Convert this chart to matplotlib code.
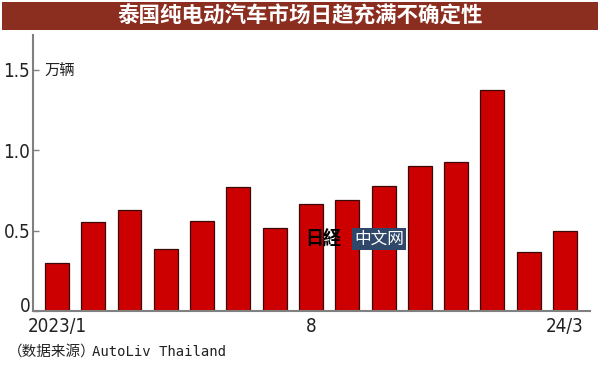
import matplotlib
matplotlib.use("Agg")
import matplotlib.pyplot as plt
from matplotlib.patches import Rectangle
from matplotlib import font_manager
from matplotlib.transforms import ScaledTranslation

months = ["2023/1", "2", "3", "4", "5", "6", "7", "8", "9", "10", "11", "12", "24/1", "2", "3"]
sales = [0.30, 0.55, 0.63, 0.385, 0.56, 0.77, 0.515, 0.665, 0.69, 0.775, 0.90, 0.925, 1.37, 0.365, 0.50]
shown_ticks = {0: "2023/1", 7: "8", 14: "24/3"}
yticks = [0, 0.5, 1.0, 1.5]
ytick_labels = ["0", "0.5", "1.0", "1.5"]

title = "泰国纯电动汽车市场日趋充满不确定性"
unit = "万辆"
source_cn = "（数据来源）"
source_en = "AutoLiv Thailand"

cjk = ["Noto Sans CJK SC", "DejaVu Sans"]
tick_fp = font_manager.FontProperties(family="DejaVu Sans", stretch="condensed", size=13.5)

fig = plt.figure(figsize=(6.0, 3.69), dpi=100)
fig.patch.set_facecolor("white")

# title bar
fig.patches.append(Rectangle((2/600, 1 - 30/369), 596/600, 28/369, transform=fig.transFigure,
                             facecolor="#8b2d1f", edgecolor="none"))
fig.text(0.5, 1 - 16/369, title, ha="center", va="center", color="white",
         fontsize=15.5, fontweight="bold", family=cjk)

ax = fig.add_axes([33/600, 58/369, (590-33)/600, (311-35)/369])
x = list(range(len(sales)))
ax.bar(x, sales, width=0.66, color="#cc0000", edgecolor="#3a0a0a", linewidth=0.9, zorder=2)

ax.set_xlim(-0.66, 14.69)
ax.set_ylim(0, (311-35)/161)
ax.set_yticks(yticks)
ax.set_yticklabels(ytick_labels, fontproperties=tick_fp, color="#222222")
ax.set_xticks(list(shown_ticks.keys()))
ax.set_xticklabels(list(shown_ticks.values()), fontproperties=tick_fp, color="#222222")
ax.tick_params(axis="y", direction="in", length=4, width=1, color="#808080", pad=2)
ax.tick_params(axis="x", length=0, pad=4)
for s in ["top", "right"]:
    ax.spines[s].set_visible(False)
for s in ["left", "bottom"]:
    ax.spines[s].set_color("#808080")
    ax.spines[s].set_linewidth(1.5)

# lift the "0" label a bit so it sits above the x labels, as in the reference
zero_lbl = ax.get_yticklabels()[0]
zero_lbl.set_transform(zero_lbl.get_transform() + ScaledTranslation(0, 6/100, fig.dpi_scale_trans))

fig.text(44/600, 1 - 71/369, unit, ha="left", va="center",
         fontsize=11, family=cjk, color="#222222")

fig.text(8/600, 1 - 352/369, source_cn, ha="left", va="center", fontsize=10.5,
         family=cjk, color="#222222")
fig.text(92/600, 1 - 352/369, source_en, ha="left", va="center", fontsize=10,
         family="DejaVu Sans Mono", color="#222222")

# watermark
fig.text(323/600, 1 - 239/369, "日経", ha="center", va="center", fontsize=13,
         fontweight="bold", family=cjk, color="black")
fig.text(379/600, 1 - 239/369, "中文网", ha="center", va="center", fontsize=12,
         family=cjk, color="white",
         bbox=dict(boxstyle="square,pad=0.15", facecolor="#2f4869", edgecolor="none"))

fig.savefig("out.png", dpi=100)
